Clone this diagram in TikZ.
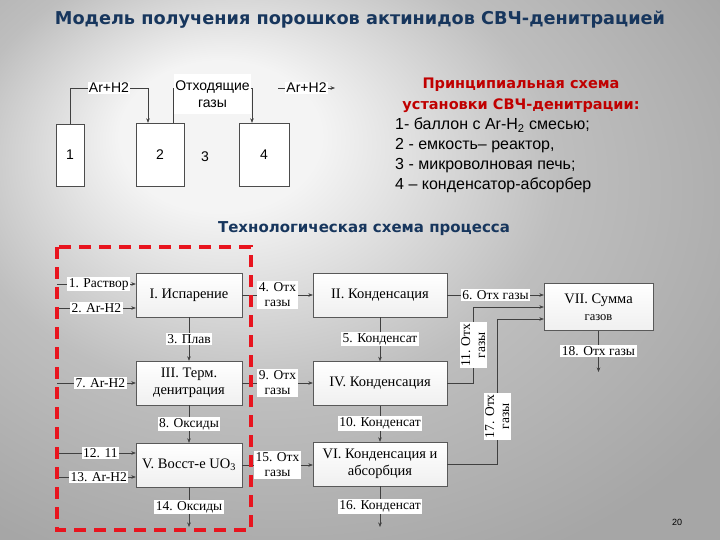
\documentclass[tikz,border=0pt]{standalone}
\usepackage{fontspec}
\setmainfont{Liberation Serif}
\newfontfamily\schemefont{Liberation Sans}
\newfontfamily\headfont{DejaVu Sans}
\usepackage{xcolor}
\usetikzlibrary{arrows.meta}
\usetikzlibrary{positioning}

\definecolor{titleblue}{RGB}{23,54,93}
\definecolor{headred}{RGB}{192,0,0}
\definecolor{framered}{RGB}{232,20,30}
\definecolor{bgdark}{RGB}{166,166,166}
\definecolor{bgmid}{RGB}{190,190,190}
\definecolor{bglight}{RGB}{244,244,244}
\pgfdeclareradialshading{slideglow}{\pgfpoint{-11bp}{14bp}}{color(0bp)=(bglight); color(7bp)=(bglight); color(21bp)=(bgmid); color(36bp)=(bgdark); color(60bp)=(bgdark)}

\begin{document}
\begin{tikzpicture}[x=1pt,y=-1pt,
  proc/.style={draw=black!65, top color=white, bottom color=black!6, minimum width=106pt, minimum height=44pt, inner sep=1pt, align=center, font=\fontsize{14.5}{17}\selectfont},
  lbl/.style={fill=white, inner sep=1.5pt, align=center, font=\fontsize{13.5}{15}\selectfont},
  flow/.style={draw=black!75, -{Stealth[length=4.5pt,width=3.5pt]}},
  unit/.style={draw=black!70, fill=white, inner sep=0pt, font=\schemefont\fontsize{14}{16}\selectfont},
  slbl/.style={fill=white, inner sep=1pt, align=center, font=\schemefont\fontsize{14}{17}\selectfont}
]
\useasboundingbox (0,0) rectangle (720,540);
\shade[shading=slideglow] (0,0) rectangle (720,540);

% titles
\node[font=\headfont\bfseries\fontsize{17.7}{20}\selectfont, text=titleblue] (title) at (360,20) {Модель получения порошков актинидов СВЧ-денитрацией};
\node[font=\headfont\bfseries\fontsize{14.5}{21}\selectfont, text=headred, align=center] (head) at (521,95) {Принципиальная схема\\установки СВЧ-денитрации:};
\node[anchor=north west, inner sep=0pt, align=left, font=\schemefont\fontsize{16}{20}\selectfont] (legend) at (395,118) {1- баллон с Ar-H\textsubscript{2} смесью;\\2 - емкость– реактор,\\3 - микроволновая печь;\\4 – конденсатор-абсорбер};
\node[font=\headfont\bfseries\fontsize{15}{18}\selectfont, text=titleblue] (techhead) at (364,229) {Технологическая схема процесса};

% installation
\node[unit, minimum width=28pt, minimum height=62pt] (b1) at (70,155) {1};
\node[unit, minimum width=48pt, minimum height=63pt] (b2) at (160,154.5) {2};
\node[font=\schemefont\fontsize{14}{16}\selectfont] (b3) at (205,157) {3};
\node[unit, minimum width=50pt, minimum height=63pt] (b4) at (264,154.5) {4};
\draw[flow] (b1.north) -- ++(0,-36) -| ([xshift=-12pt]b2.north) node[slbl, pos=0.25] {Ar+H2};
\draw[flow] ([xshift=13pt]b2.north) -- ++(0,-35) -| ([xshift=-12pt]b4.north);
\node[slbl, minimum width=76pt, minimum height=40pt] (gases) at (212.5,94) {Отходящие\\газы};
\coordinate (gout) at (278,88);
\draw[flow] (gout) -- ++(57,0) node[slbl, midway] {Ar+H2};

% process
\node[proc] (isp) at (189,295) {I. Испарение};
\node[proc] (term) at (189,383) {III. Терм.\\денитрация};
\node[proc] (vosst) at (189,465) {V. Восст-е UO\textsubscript{3}};
\node[proc, minimum width=134pt] (kond2) at (380,295) {II. Конденсация};
\node[proc, minimum width=134pt] (kond4) at (380,383.5) {IV. Конденсация};
\node[proc, minimum width=134pt] (kond6) at (380,464) {VI. Конденсация и\\абсорбция};
\node[proc, minimum width=109pt, minimum height=47pt] (summa) at (598.5,307) {VII. Сумма\\{\fontsize{12.5}{14}\selectfont газов}};

\coordinate (in1) at (57,284);
\coordinate (in2) at (57,308);
\coordinate (in7) at (57,383);
\coordinate (in12) at (57,453);
\coordinate (in13) at (57,477);
\coordinate (out14) at (189,527);
\coordinate (out16) at (380,527);
\coordinate (out18) at (598.5,372);

\draw[flow] (in1) -- (in1 -| isp.west) node[lbl, pos=0.53] {1. Раствор};
\draw[flow] (in2) -- (in2 -| isp.west) node[lbl, pos=0.5] {2. Ar-H2};
\draw[flow] (in7) -- (in7 -| term.west) node[lbl, pos=0.55] {7. Ar-H2};
\draw[flow] (in12) -- (in12 -| vosst.west) node[lbl, pos=0.55] {12. 11};
\draw[flow] (in13) -- (in13 -| vosst.west) node[lbl, pos=0.53] {13. Ar-H2};

\draw[flow] (isp) -- (term) node[lbl, midway] {3. Плав};
\draw[flow] (term) -- (vosst) node[lbl, midway] {8. Оксиды};
\draw[flow] (vosst) -- (out14) node[lbl, midway] {14. Оксиды};
\draw[flow] (kond2) -- (kond4) node[lbl, midway] {5. Конденсат};
\draw[flow] (kond4) -- (kond6) node[lbl, midway] {10. Конденсат};
\draw[flow] (kond6) -- (out16) node[lbl, midway] {16. Конденсат};
\draw[flow] (summa) -- (out18) node[lbl, midway] {18. Отх газы};

\draw[flow] (isp) -- (kond2) node[lbl, midway] {4. Отх\\газы};
\draw[flow] (term.east) -- (term.east -| kond4.west) node[lbl, midway] {9. Отх\\газы};
\draw[flow] (vosst.east) -- (vosst.east -| kond6.west) node[lbl, midway] {15. Отх\\газы};
\draw[flow] (kond2.east) -- ([yshift=12pt]summa.west) node[lbl, midway] {6. Отх газы};
\draw[flow] (kond4.east) -- ++(26,0) |- (summa.west) node[lbl, rotate=90, pos=0.25] {11. Отх\\газы};
\draw[flow] (kond6.east) -- ++(50,0) |- ([yshift=-12pt]summa.west) node[lbl, rotate=90, pos=0.165] {17. Отх\\газы};

\draw[framered, line width=3.5pt, dash pattern=on 12pt off 8pt] (57,247) rectangle (251,530);

\node[font=\schemefont\fontsize{9}{10}\selectfont] (pnum) at (677,522) {20};
\end{tikzpicture}
\end{document}
